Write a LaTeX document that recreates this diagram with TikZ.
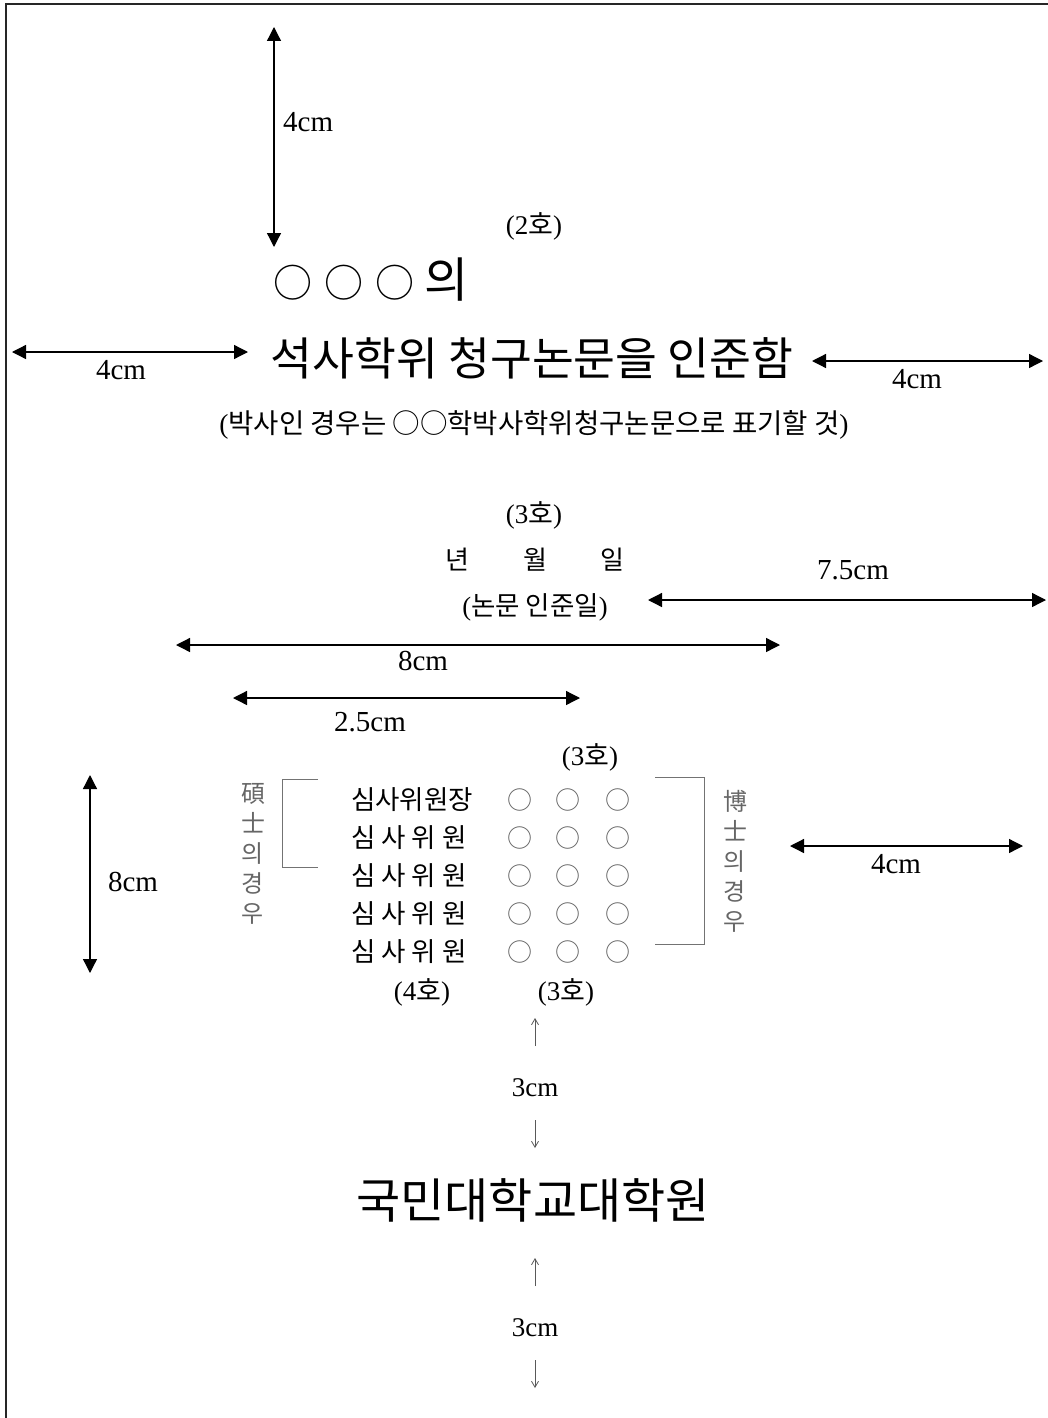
\documentclass[tikz,border=0pt]{standalone}
\usepackage{fontspec}
\setmainfont{Liberation Serif}
\newfontfamily\kr{Noto Sans CJK KR}
\usetikzlibrary{arrows.meta}
\tikzset{
  dimarrow/.style={line width=1.3pt,{Triangle[length=14pt,width=14pt]}-{Triangle[length=14pt,width=14pt]}},
  thinarrow/.style={line width=0.8pt,draw=black!65,-{Straight Barb[length=6pt,width=7pt]}},
  bracketline/.style={line width=1pt,draw=black!55},
  lbl/.style={inner sep=0pt,font=\fontsize{29}{32}\selectfont},
  krtxt/.style={inner sep=0pt,font=\kr\fontsize{26.5}{30}\selectfont},
  mixed/.style={inner sep=0pt,font=\fontsize{27}{30}\selectfont},
  vtxt/.style={inner sep=0pt,align=center,text=black!60,font=\kr\fontsize{24}{30}\selectfont},
  ring/.style={inner sep=0pt,text=black!60,font=\kr\fontsize{25}{30}\selectfont}
}
\begin{document}
\begin{tikzpicture}[x=1pt,y=-1pt]
\useasboundingbox (0,0) rectangle (1048,1418);
% frame
\coordinate (fTL) at (6,4);
\coordinate (fTR) at (1048,4);
\coordinate (fBL) at (6,1418);
\draw[line width=1.3pt,black!85] (fTR) -- (fTL) -- (fBL);

% top 4cm
\coordinate (t1) at (274,27);
\coordinate (t2) at (274,247);
\draw[dimarrow] (t1) -- (t2);
\node[lbl,anchor=west] (t4cm) at (283,122) {4cm};

\node[mixed] (ho2) at (534,226) {(2{\kr 호})};
\node[inner sep=0pt,anchor=west,font=\kr\fontsize{48}{56}\selectfont] (name) at (273,280) {{\fontsize{39}{44}\selectfont ○\hspace{12pt}○\hspace{12pt}○}\hspace{10pt}의};

% title row
\coordinate (l1) at (12,352);
\coordinate (l2) at (248,352);
\draw[dimarrow] (l1) -- (l2);
\node[lbl] (l4cm) at (121,370) {4cm};
\node[inner sep=0pt,font=\kr\fontsize{45.5}{54}\selectfont] (title) at (532,358) {석사학위 청구논문을 인준함};
\coordinate (r1) at (812,361);
\coordinate (r2) at (1043,361);
\draw[dimarrow] (r1) -- (r2);
\node[lbl] (r4cm) at (917,379) {4cm};

\node[inner sep=0pt,font=\fontsize{27.5}{30}\selectfont] (sub) at (534,425) {({\kr 박사인 경우는 ○○학박사학위청구논문으로 표기할 것})};

\node[mixed] (ho3a) at (534,515) {(3{\kr 호})};
\node[krtxt,font=\kr\fontsize{26}{30}\selectfont] (date) at (535,560) {년\hspace{54pt}월\hspace{54pt}일};
\node[mixed,font=\fontsize{26.5}{30}\selectfont] (dnote) at (535,607) {({\kr 논문 인준일})};

\coordinate (s1) at (648,600);
\coordinate (s2) at (1046,600);
\draw[dimarrow] (s1) -- (s2);
\node[lbl] (s75) at (853,570) {7.5cm};

\coordinate (e1) at (176,645);
\coordinate (e2) at (780,645);
\draw[dimarrow] (e1) -- (e2);
\node[lbl] (e8) at (423,661) {8cm};

\coordinate (h1) at (233,698);
\coordinate (h2) at (580,698);
\draw[dimarrow] (h1) -- (h2);
\node[lbl] (h25) at (370,722) {2.5cm};

\node[mixed] (ho3b) at (590,757) {(3{\kr 호})};

% committee rows
\node[krtxt,anchor=west] (row1) at (351,800) {심사위원장};
\node[krtxt,anchor=west] (row2) at (351,838) {심 사 위 원};
\node[krtxt,anchor=west] (row3) at (351,876) {심 사 위 원};
\node[krtxt,anchor=west] (row4) at (351,914) {심 사 위 원};
\node[krtxt,anchor=west] (row5) at (351,952) {심 사 위 원};
\foreach \r/\yy in {1/800,2/838,3/876,4/914,5/952}{
  \node[ring] (c\r a) at (520,\yy) {○};
  \node[ring] (c\r b) at (568,\yy) {○};
  \node[ring] (c\r c) at (618,\yy) {○};
}

% left bracket
\coordinate (b1) at (318,779);
\coordinate (b2) at (282,779);
\coordinate (b3) at (282,867);
\coordinate (b4) at (318,867);
\draw[bracketline] (b1) -- (b2) -- (b3) -- (b4);
\node[vtxt] (master) at (253,854) {碩\\士\\의\\경\\우};

% right bracket
\coordinate (p1) at (655,777);
\coordinate (p2) at (704,777);
\coordinate (p3) at (704,944);
\coordinate (p4) at (655,944);
\draw[bracketline] (p1) -- (p2) -- (p3) -- (p4);
\node[vtxt] (doctor) at (735,861) {博\\士\\의\\경\\우};

% left 8cm vertical
\coordinate (v1) at (90,775);
\coordinate (v2) at (90,973);
\draw[dimarrow] (v1) -- (v2);
\node[lbl] (v8) at (133,882) {8cm};

% right 4cm
\coordinate (q1) at (790,846);
\coordinate (q2) at (1023,846);
\draw[dimarrow] (q1) -- (q2);
\node[lbl] (q4) at (896,864) {4cm};

\node[mixed] (ho4) at (422,992) {(4{\kr 호})};
\node[mixed] (ho3c) at (566,992) {(3{\kr 호})};

% 3cm upper
\coordinate (u1) at (535,1046);
\coordinate (u2) at (535,1018);
\draw[thinarrow] (u1) -- (u2);
\node[mixed,font=\fontsize{27}{30}\selectfont] (u3) at (535,1088) {3cm};
\coordinate (d1) at (535,1120);
\coordinate (d2) at (535,1148);
\draw[thinarrow] (d1) -- (d2);

\node[inner sep=0pt,font=\kr\fontsize{48}{56}\selectfont] (univ) at (533,1200) {국민대학교대학원};

% 3cm lower
\coordinate (w1) at (535,1286);
\coordinate (w2) at (535,1258);
\draw[thinarrow] (w1) -- (w2);
\node[mixed,font=\fontsize{27}{30}\selectfont] (w3) at (535,1328) {3cm};
\coordinate (z1) at (535,1360);
\coordinate (z2) at (535,1388);
\draw[thinarrow] (z1) -- (z2);
\end{tikzpicture}
\end{document}
